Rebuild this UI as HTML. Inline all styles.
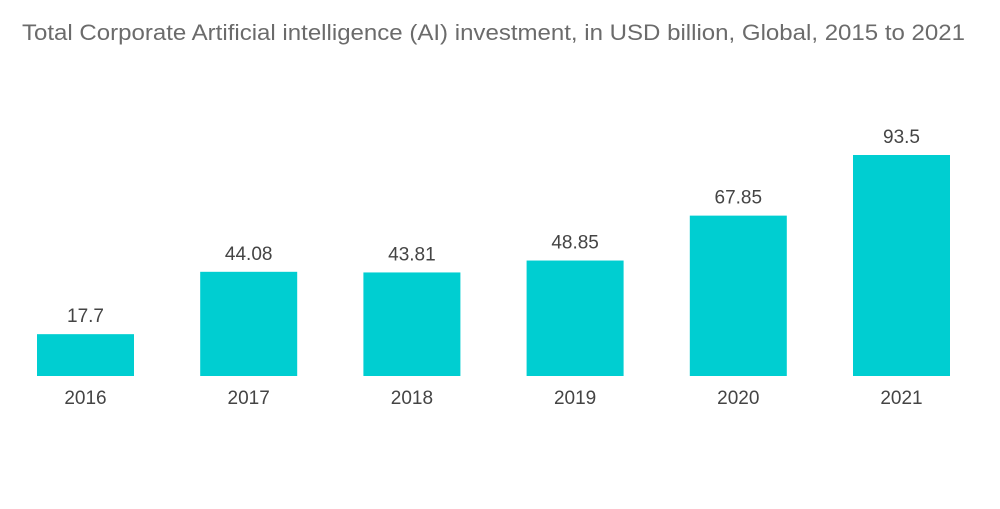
<!DOCTYPE html>
<html><head><meta charset="utf-8"><style>
body{margin:0;background:#fff;width:1000px;height:504px;overflow:hidden;font-family:"Liberation Sans",sans-serif}
</style></head><body>
<svg width="1000" height="504">
<text x="22" y="40" font-size="22" textLength="943" lengthAdjust="spacingAndGlyphs" fill="#6b6b6b" font-family="Liberation Sans, sans-serif">Total Corporate Artificial intelligence (AI) investment, in USD billion, Global, 2015 to 2021</text>
<g id="bars"></g>
</svg>
<script>
const categories=["2016","2017","2018","2019","2020","2021"];
const values=[17.7,44.08,43.81,48.85,67.85,93.5];
const labels=["17.7","44.08","43.81","48.85","67.85","93.5"];
const base=376, scale=221/93.5, x0=37, step=163.2, bw=97;
const g=document.getElementById('bars');
const ns="http://www.w3.org/2000/svg";
function y(v){return base-v*scale;}
categories.forEach((c,i)=>{
  const x=x0+i*step;
  const r=document.createElementNS(ns,'rect');
  
  
  r.setAttribute('x',x);r.setAttribute('y',y(values[i]));
  r.setAttribute('width',bw);r.setAttribute('height',base-y(values[i]));
  r.setAttribute('fill','#00ced1');g.appendChild(r);
  const t=document.createElementNS(ns,'text');
  
  
  t.setAttribute('x',x+bw/2);t.setAttribute('y',y(values[i])-12);
  t.setAttribute('text-anchor','middle');t.setAttribute('font-size','19');t.setAttribute('fill','#444');
  t.textContent=labels[i];g.appendChild(t);
  const a=document.createElementNS(ns,'text');
  
  
  a.setAttribute('x',x+bw/2);a.setAttribute('y',404);
  a.setAttribute('text-anchor','middle');a.setAttribute('font-size','19');a.setAttribute('fill','#444');
  a.textContent=c;g.appendChild(a);
});
</script>
</body></html>
